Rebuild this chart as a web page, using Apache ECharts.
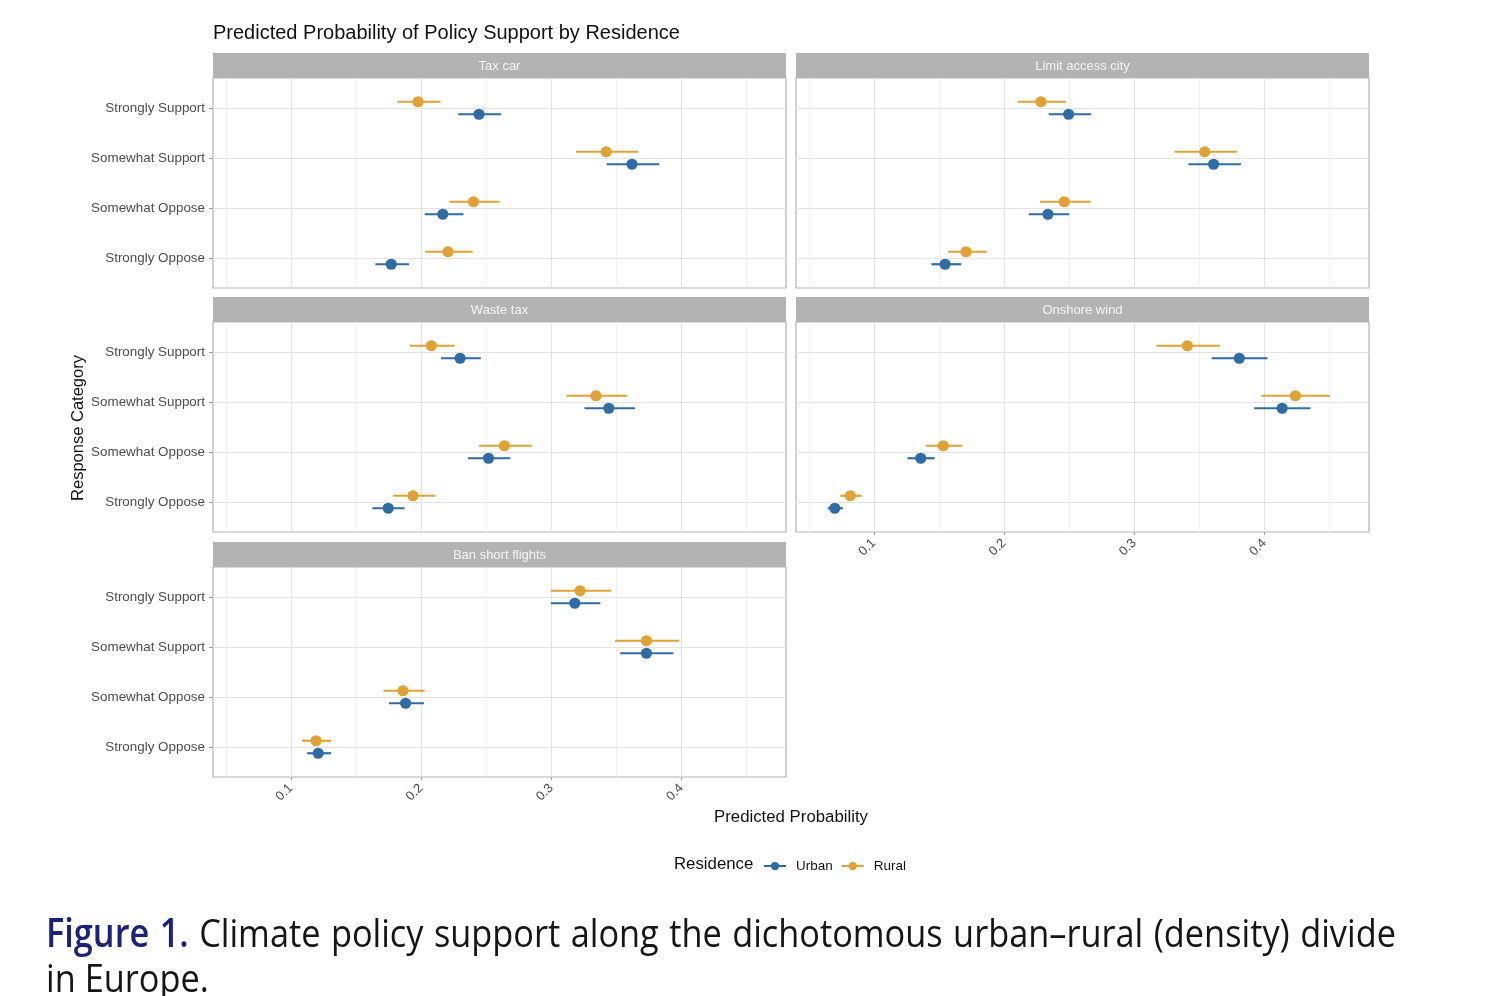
<!DOCTYPE html>
<html>
<head>
<meta charset="utf-8">
<script src="https://cdn.jsdelivr.net/npm/echarts@6/dist/echarts.min.js"></script>
<style>
html,body{margin:0;padding:0;background:#fff;}
#chart{position:absolute;left:0;top:0;width:1500px;height:996px;}
#cap{position:absolute;left:46px;top:909px;width:1534px;font-family:'Open Sans','Noto Sans',sans-serif;font-size:39px;line-height:45px;color:#151515;transform:scaleX(0.88);transform-origin:0 0;}
#cap .l1{display:block;white-space:nowrap;text-align:justify;text-align-last:justify;}
#cap .fig{color:#1d2279;font-weight:600;}
</style>
</head>
<body>
<div id="chart"></div>
<div id="cap"><span class="l1"><span class="fig">Figure 1.</span> Climate policy support along the dichotomous urban–rural (density) divide</span><span>in Europe.</span></div>
<script>
// ---------- data ----------
const chartTitle = 'Predicted Probability of Policy Support by Residence';
const responseCategories = ['Strongly Support', 'Somewhat Support', 'Somewhat Oppose', 'Strongly Oppose'];
const policies = ['Tax car', 'Limit access city', 'Waste tax', 'Onshore wind', 'Ban short flights'];
const residences = ['Urban', 'Rural'];
// [estimate, lower, upper] per response category (top to bottom)
const taxCarUrban = [[0.2445, 0.2286, 0.2615], [0.3620, 0.3425, 0.3830], [0.2167, 0.2028, 0.2326], [0.1771, 0.1649, 0.1907]];
const taxCarRural = [[0.1977, 0.1816, 0.2150], [0.3422, 0.3190, 0.3669], [0.2402, 0.2218, 0.2603], [0.2207, 0.2031, 0.2397]];
const limitAccessUrban = [[0.2496, 0.2343, 0.2669], [0.3609, 0.3416, 0.3819], [0.2337, 0.2190, 0.2501], [0.1547, 0.1442, 0.1671]];
const limitAccessRural = [[0.2283, 0.2105, 0.2476], [0.3541, 0.3309, 0.3790], [0.2462, 0.2275, 0.2666], [0.1708, 0.1569, 0.1867]];
const wasteTaxUrban = [[0.2300, 0.2153, 0.2459], [0.3442, 0.3255, 0.3643], [0.2518, 0.2360, 0.2686], [0.1748, 0.1626, 0.1873]];
const wasteTaxRural = [[0.2079, 0.1915, 0.2258], [0.3343, 0.3116, 0.3584], [0.2640, 0.2445, 0.2853], [0.1938, 0.1785, 0.2110]];
const onshoreWindUrban = [[0.3807, 0.3595, 0.4023], [0.4136, 0.3921, 0.4354], [0.1360, 0.1258, 0.1467], [0.0700, 0.0646, 0.0762]];
const onshoreWindRural = [[0.3408, 0.3170, 0.3657], [0.4238, 0.3975, 0.4504], [0.1533, 0.1399, 0.1680], [0.0819, 0.0742, 0.0907]];
const banFlightsUrban = [[0.3181, 0.2997, 0.3377], [0.3731, 0.3530, 0.3938], [0.1881, 0.1754, 0.2023], [0.1210, 0.1125, 0.1309]];
const banFlightsRural = [[0.3221, 0.2997, 0.3459], [0.3731, 0.3490, 0.3983], [0.1861, 0.1711, 0.2028], [0.1193, 0.1085, 0.1309]];
const xTicks = [0.1, 0.2, 0.3, 0.4];
const xMinorTicks = [0.05, 0.15, 0.25, 0.35, 0.45];
const xRange = [0.0402, 0.4803];

const panelData = [
  [taxCarUrban, taxCarRural],
  [limitAccessUrban, limitAccessRural],
  [wasteTaxUrban, wasteTaxRural],
  [onshoreWindUrban, onshoreWindRural],
  [banFlightsUrban, banFlightsRural]
];

// ---------- layout / style ----------
const COLORS = { Urban: '#2f6ca6', Rural: '#e0a236' };
const colLeft = [213, 796], panelW = 573;
const rowTop = [53, 297, 542], stripH = 25, plotH = 210;
const DODGE = { Urban: 0.125, Rural: -0.125 }; // in category units (negative = up)
const nCat = responseCategories.length;
const labelColor = '#4d4d4d';
const FONT = '"Liberation Sans", Arial, sans-serif';

const grids = [], xAxes = [], yAxes = [], series = [], graphics = [];

policies.forEach((pol, g) => {
  const col = g % 2, row = Math.floor(g / 2);
  const left = colLeft[col], top = rowTop[row] + stripH;
  const isBottom = (g === 3 || g === 4);
  const isLeft = col === 0;
  grids.push({ left: left, top: top, width: panelW, height: plotH, show: true, borderColor: '#b3b3b3', borderWidth: 1.2, backgroundColor: '#fff', containLabel: false });
  // major x axis
  xAxes.push({
    type: 'value', gridIndex: g, min: xRange[0], max: xRange[1], position: 'bottom',
    axisLine: { show: false },
    axisTick: { show: isBottom, customValues: xTicks, length: 3, lineStyle: { color: '#999' } },
    axisLabel: { show: isBottom, customValues: xTicks, rotate: 45, color: labelColor, fontSize: 13, fontFamily: FONT, margin: 9, formatter: v => String(Math.round(v * 10) / 10) },
    splitLine: { show: true, customValues: xTicks, lineStyle: { color: '#e3e3e3', width: 1.1 } }
  });
  // minor x grid
  xAxes.push({
    type: 'value', gridIndex: g, min: xRange[0], max: xRange[1], position: 'top',
    axisLine: { show: false },
    axisTick: { show: false, customValues: xMinorTicks },
    axisLabel: { show: false, customValues: xMinorTicks },
    splitLine: { show: true, customValues: xMinorTicks, lineStyle: { color: '#eeeeee', width: 0.8 } }
  });
  const yVals = responseCategories.map((c, i) => nCat - i);
  yAxes.push({
    type: 'value', gridIndex: g, min: 0.4, max: nCat + 0.6,
    axisLine: { show: false },
    axisTick: { show: isLeft, customValues: yVals, length: 4, lineStyle: { color: '#999' } },
    axisLabel: { show: isLeft, customValues: yVals, color: labelColor, fontSize: 13.4, fontFamily: FONT, margin: 8, formatter: v => responseCategories[nCat - Math.round(v)] },
    splitLine: { show: true, customValues: yVals, lineStyle: { color: '#e3e3e3', width: 1.1 } }
  });
  // strip
  graphics.push({ type: 'rect', left: left, top: rowTop[row], shape: { width: panelW, height: stripH }, style: { fill: '#b3b3b3' }, z: 10 });
  graphics.push({ type: 'text', x: left + panelW / 2, y: rowTop[row] + stripH / 2 + 0.5, style: { text: pol, fill: '#f5f5f5', font: '13px ' + FONT, align: 'center', verticalAlign: 'middle' }, z: 11 });

  residences.forEach((res, r) => {
    const vals = panelData[g][r];
    const data = vals.map((d, i) => [nCat - i - DODGE[res], d[0], d[1], d[2]]);
    series.push({
      type: 'custom', name: res, xAxisIndex: 2 * g, yAxisIndex: g,
      itemStyle: { color: COLORS[res] },
      encode: { x: [1, 2, 3], y: 0 },
      data: data,
      z: r === 0 ? 3 : 2,
      renderItem: (params, api) => {
        const y = api.value(0);
        const p = api.coord([api.value(1), y]);
        const lo = api.coord([api.value(2), y]);
        const hi = api.coord([api.value(3), y]);
        const c = api.visual('color');
        return {
          type: 'group', children: [
            { type: 'line', shape: { x1: lo[0], y1: lo[1], x2: hi[0], y2: hi[1] }, style: { stroke: c, lineWidth: 2.2 } },
            { type: 'circle', shape: { cx: p[0], cy: p[1], r: 5.6 }, style: { fill: c } }
          ]
        };
      }
    });
  });
});

// titles
graphics.push({ type: 'text', x: 213, y: 33, style: { text: chartTitle, fill: '#111', font: '20px ' + FONT, align: 'left', verticalAlign: 'middle' } });
graphics.push({ type: 'text', x: 791, y: 817, style: { text: 'Predicted Probability', fill: '#111', font: '16.8px ' + FONT, align: 'center', verticalAlign: 'middle' } });
graphics.push({ type: 'text', x: 78, y: 428, rotation: Math.PI / 2, style: { text: 'Response Category', fill: '#111', font: '16.5px ' + FONT, align: 'center', verticalAlign: 'middle' } });
graphics.push({ type: 'text', x: 674, y: 864, style: { text: 'Residence', fill: '#111', font: '16.8px ' + FONT, align: 'left', verticalAlign: 'middle' } });

const legendIcon = 'path://M0,4 L8,4 L8,6 L0,6 Z M16,4 L24,4 L24,6 L16,6 Z M12,0.5 A4.5,4.5 0 1 1 11.99,0.5 Z';

const chart = echarts.init(document.getElementById('chart'), null, { renderer: 'canvas' });
chart.setOption({
  backgroundColor: '#fff',
  animation: false,
  grid: grids,
  xAxis: xAxes,
  yAxis: yAxes,
  series: series,
  legend: {
    data: residences.map(r => ({ name: r, icon: legendIcon, itemStyle: { color: COLORS[r] } })),
    left: 759, top: 854, itemWidth: 22, itemHeight: 10, itemGap: 9,
    textStyle: { color: '#111', fontSize: 13.5, fontFamily: FONT, padding: [0, 0, 0, 5] }
  },
  graphic: graphics
});
</script>
</body>
</html>
